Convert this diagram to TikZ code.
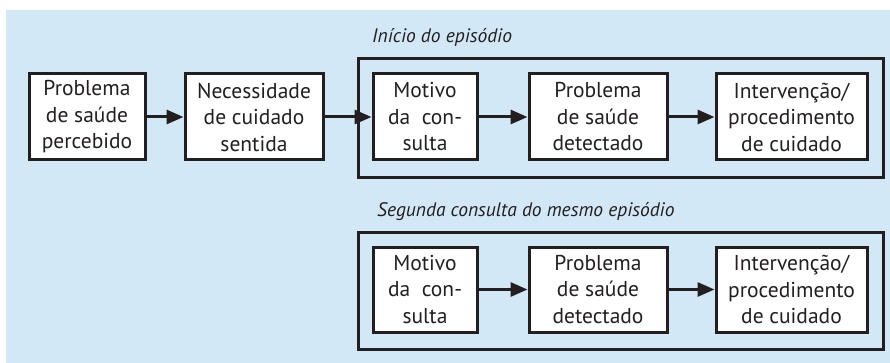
\documentclass[tikz,border=0pt]{standalone}
\usepackage{fontspec}
\setmainfont{PT Sans}
\usetikzlibrary{arrows.meta}
\definecolor{bgblue}{RGB}{211,232,246}
\definecolor{ink}{RGB}{35,31,32}
\begin{document}
\begin{tikzpicture}[x=1pt,y=-1pt,
  box/.style={draw=ink,line width=3pt,fill=white,inner sep=0pt,align=center,
    font=\fontsize{21.5}{26.5}\selectfont,text=ink},
  frame/.style={draw=ink,line width=3pt},
  conn/.style={draw=ink,line width=3pt,-{Triangle[length=17pt,width=14pt]}},
  ttl/.style={anchor=base west,inner sep=0pt,font=\fontsize{19.5}{24}\selectfont\itshape,text=ink}]
\useasboundingbox (0,0) rectangle (890,363);
\fill[bgblue] (6,10) rectangle (890,363);
% outer frames
\draw[frame] (358,59) rectangle (883,178);
\draw[frame] (358,232) rectangle (883,349);
% titles
\node[ttl] (t1) at (372,43) {Início do episódio};
\node[ttl] (t2) at (377,217) {Segunda consulta do mesmo episódio};
% top row
\node[box,minimum width=116pt,minimum height=86pt] (a) at (87,117) {Problema\\de saúde\\percebido};
\node[box,minimum width=138pt,minimum height=86pt] (b) at (254,117) {Necessidade\\de cuidado\\sentida};
\node[box,minimum width=104pt,minimum height=86pt] (c) at (425,117) {Motivo\\da\ \ con-\\sulta};
\node[box,minimum width=138pt,minimum height=86pt] (d) at (598,117) {Problema\\de saúde\\detectado};
\node[box,minimum width=151pt,minimum height=86pt] (e) at (791.5,117) {Intervenção/\\procedimento\\de cuidado};
% bottom row
\node[box,minimum width=104pt,minimum height=85pt] (c2) at (425,289.5) {Motivo\\da\ \ con-\\sulta};
\node[box,minimum width=138pt,minimum height=85pt] (d2) at (598,289.5) {Problema\\de saúde\\detectado};
\node[box,minimum width=151pt,minimum height=85pt] (e2) at (791.5,289.5) {Intervenção/\\procedimento\\de cuidado};
% connectors
\draw[conn] (a) -- (b);
\draw[conn] (b) -- (c);
\draw[conn] (c) -- (d);
\draw[conn] (d) -- (e);
\draw[conn] (c2) -- (d2);
\draw[conn] (d2) -- (e2);
\end{tikzpicture}
\end{document}
